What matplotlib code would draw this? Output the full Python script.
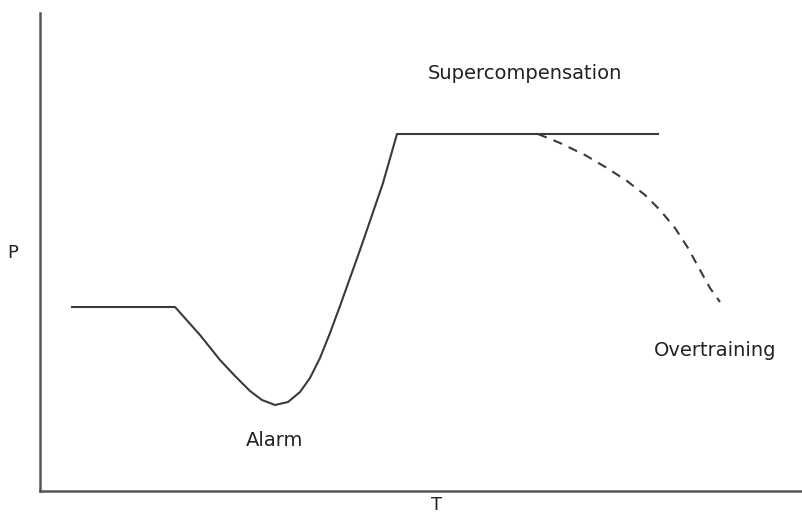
import matplotlib
matplotlib.use("Agg")
import matplotlib.pyplot as plt

# main curve (x, y in axis units: pixels from the axis origin)
main_t = [32, 135, 160, 180, 195, 210, 222, 235, 248, 260, 270, 280, 290,
          300, 310, 320, 330, 343, 357, 618]
main_p = [184, 184, 156, 131, 115, 100, 91, 86, 89, 99, 113, 133, 158,
          185, 213, 241, 270, 308, 357, 357]

# overtraining branch (dashed)
over_t = [498, 520, 545, 567, 587, 605, 620, 635, 648, 660, 670, 680]
over_p = [357, 348, 336, 323, 310, 296, 281, 263, 243, 221, 203, 189]

labels = ["Supercompensation", "Alarm", "Overtraining"]
label_t = [485, 235, 675]
label_p = [418, 51, 141]

line_col = "#3a3a3a"
font = "DejaVu Sans"

fig = plt.figure(figsize=(8.02, 5.25), dpi=100)
ax = fig.add_axes([40 / 802, 34 / 525, 762 / 802, 478 / 525])
ax.set_xlim(0, 762)
ax.set_ylim(0, 478)

ax.plot(main_t, main_p, color=line_col, lw=1.5, solid_joinstyle="round")
ax.plot(over_t, over_p, color=line_col, lw=1.5, ls=(0, (4.5, 3.5)))

for s in ["top", "right"]:
    ax.spines[s].set_visible(False)
for s in ["left", "bottom"]:
    ax.spines[s].set_color("#555555")
    ax.spines[s].set_linewidth(1.8)
ax.set_xticks([])
ax.set_yticks([])

for txt, t, p in zip(labels, label_t, label_p):
    ax.text(t, p, txt, ha="center", va="center", fontsize=14,
            family=font, color="#222222")

fig.text(437 / 802, 1 - 505 / 525, "T", ha="center", va="center",
         fontsize=13, family=font, color="#222222")
fig.text(13 / 802, 1 - 253 / 525, "P", ha="center", va="center",
         fontsize=13, family=font, color="#222222")

fig.savefig("out.png", dpi=100)
